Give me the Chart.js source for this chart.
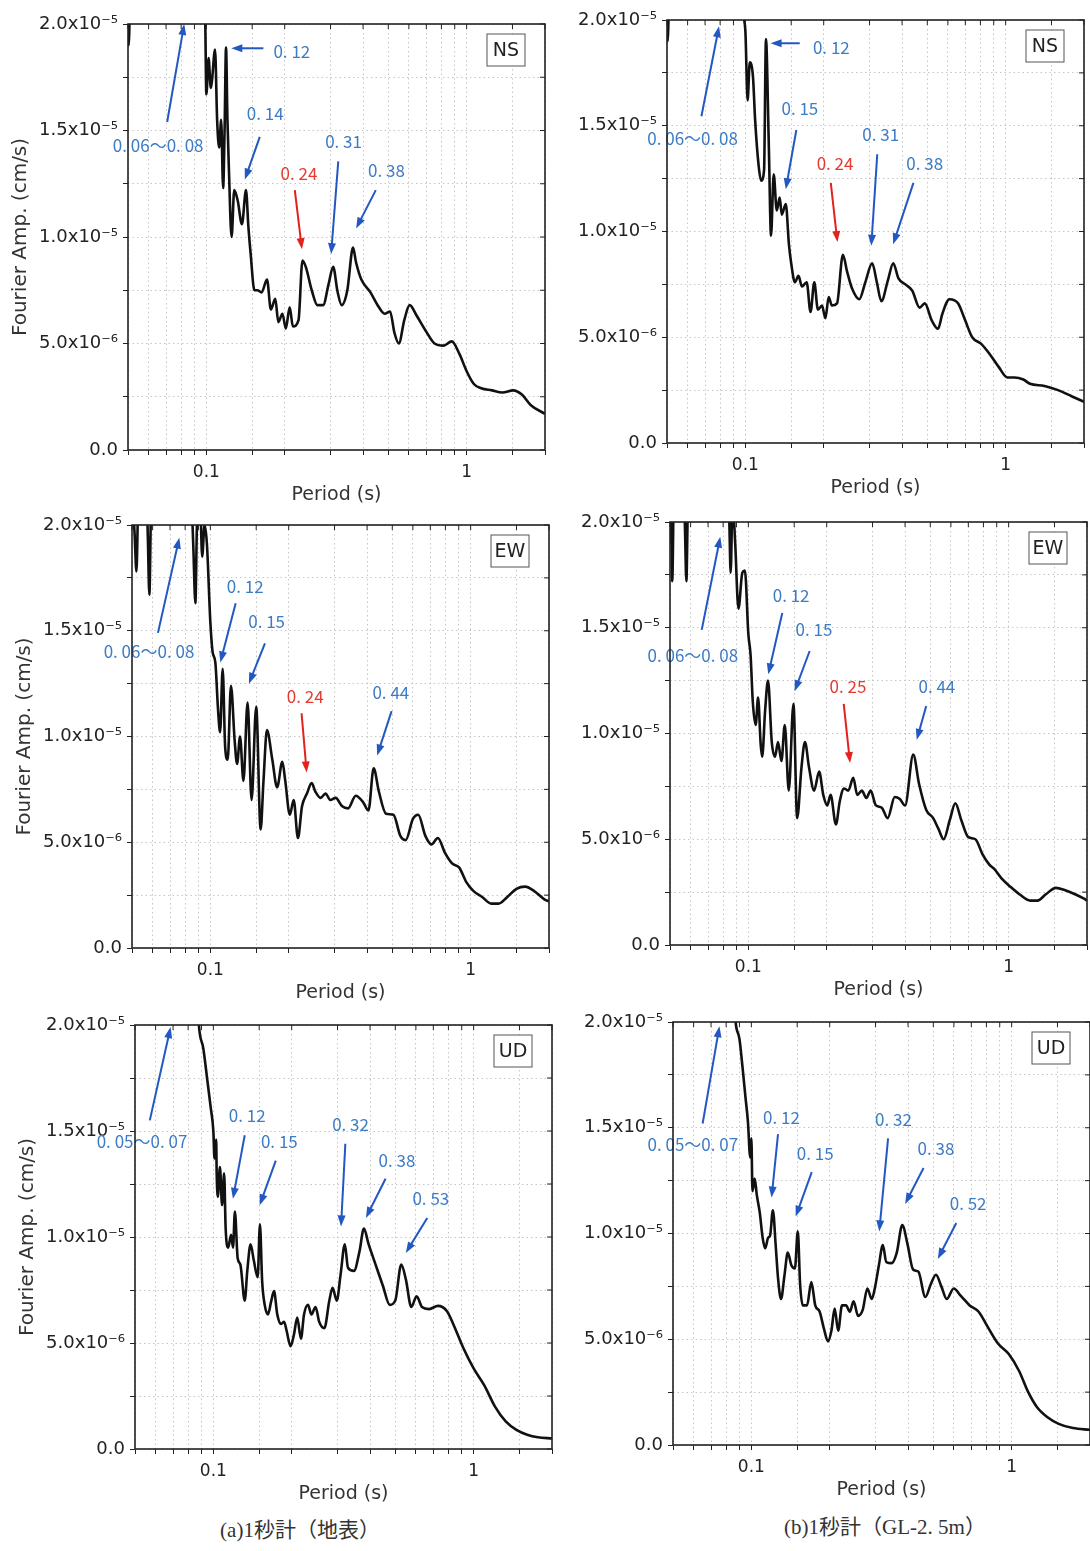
<!DOCTYPE html>
<html>
<head>
<meta charset="utf-8">
<script src="https://cdn.jsdelivr.net/npm/chart.js@4.4.1/dist/chart.umd.min.js"></script>
<style>
  body { margin: 0; background: #fff; width: 1090px; height: 1551px; position: relative; overflow: hidden; }
  canvas { position: absolute; }
  .cap { position: absolute; transform: translateX(-50%); white-space: nowrap;
         font-family: "Liberation Serif", "Noto Sans CJK JP", serif; font-size: 21px; color: #333; line-height: 24px; }
</style>
</head>
<body>
<canvas id="aNS"></canvas>
<canvas id="bNS"></canvas>
<canvas id="aEW"></canvas>
<canvas id="bEW"></canvas>
<canvas id="aUD"></canvas>
<canvas id="bUD"></canvas>
<div class="cap" style="left:300px; top:1518px;">(a)1秒計（地表）</div>
<div class="cap" style="left:885px; top:1515px;">(b)1秒計（GL-2. 5m）</div>

<script>
// Fourier amplitude spectra, amplitude in units of 1e-6 cm/s, period in s

// (a) surface, NS
const periodA_NS = [0.05, 0.0503, 0.0512, 0.06, 0.07, 0.08, 0.09, 0.097, 0.099, 0.1, 0.102, 0.104, 0.105, 0.108, 0.110, 0.112, 0.114, 0.116, 0.1175, 0.119, 0.1205, 0.122, 0.125, 0.128, 0.132, 0.137, 0.142, 0.145, 0.148, 0.153, 0.157, 0.163, 0.171, 0.177, 0.184, 0.189, 0.196, 0.202, 0.209, 0.215, 0.226, 0.234, 0.241, 0.254, 0.267, 0.281, 0.295, 0.307, 0.319, 0.331, 0.348, 0.366, 0.376, 0.394, 0.427, 0.455, 0.484, 0.508, 0.528, 0.549, 0.576, 0.604, 0.643, 0.696, 0.753, 0.815, 0.877, 0.939, 1.0, 1.066, 1.137, 1.25, 1.372, 1.51, 1.63, 1.765, 2.0];
const ampA_NS = [21, 19.0, 22.5, 27, 29, 30, 28, 23, 20.2, 16.7, 18.4, 17.0, 17.3, 18.8, 15.5, 14.2, 15.5, 12.3, 15.0, 18.9, 15.5, 13.3, 10.0, 12.2, 11.7, 10.6, 12.2, 10.5, 9.2, 7.5, 7.5, 7.4, 8.0, 6.6, 7.1, 6.0, 6.4, 5.7, 6.7, 5.8, 6.1, 8.9, 8.6, 7.5, 6.8, 6.8, 7.8, 8.6, 7.45, 6.8, 7.5, 9.5, 8.8, 8.0, 7.4, 6.8, 6.4, 6.5, 5.5, 5.0, 6.1, 6.8, 6.3, 5.6, 5.0, 4.9, 5.1, 4.5, 3.7, 3.1, 2.9, 2.8, 2.7, 2.8, 2.6, 2.1, 1.7];

// (b) GL-2.5m, NS
const periodB_NS = [0.05, 0.0503, 0.0512, 0.06, 0.07, 0.08, 0.09, 0.097, 0.1, 0.102, 0.104, 0.107, 0.109, 0.1125, 0.115, 0.118, 0.120, 0.123, 0.1255, 0.1285, 0.132, 0.1355, 0.138, 0.143, 0.147, 0.150, 0.155, 0.160, 0.165, 0.172, 0.178, 0.184, 0.190, 0.197, 0.203, 0.209, 0.215, 0.225, 0.237, 0.246, 0.257, 0.274, 0.289, 0.307, 0.32, 0.333, 0.353, 0.370, 0.387, 0.412, 0.438, 0.467, 0.489, 0.520, 0.550, 0.571, 0.608, 0.657, 0.699, 0.744, 0.804, 0.869, 0.94, 1.016, 1.081, 1.17, 1.24, 1.41, 1.59, 1.80, 2.0];
const ampB_NS = [21, 19.0, 22.5, 27, 28, 29, 27, 20.5, 19.5, 16.2, 18.0, 17.3, 15.3, 13.1, 12.4, 12.9, 19.1, 14.2, 9.8, 12.7, 11.0, 11.6, 10.8, 11.3, 9.4, 8.5, 7.6, 7.9, 7.4, 7.6, 6.2, 7.6, 6.3, 6.5, 5.9, 6.9, 6.5, 6.6, 8.9, 8.1, 7.3, 6.8, 7.6, 8.5, 7.6, 6.7, 7.7, 8.5, 7.8, 7.5, 7.2, 6.4, 6.6, 5.8, 5.4, 6.1, 6.8, 6.6, 5.8, 5.0, 4.7, 4.2, 3.6, 3.1, 3.1, 3.0, 2.8, 2.7, 2.5, 2.2, 1.95];

// (a) surface, EW
const periodA_EW = [0.05, 0.0512, 0.052, 0.0528, 0.056, 0.0575, 0.0583, 0.0592, 0.065, 0.075, 0.083, 0.086, 0.0876, 0.0888, 0.091, 0.093, 0.095, 0.097, 0.1, 0.102, 0.1045, 0.107, 0.109, 0.1115, 0.114, 0.1166, 0.120, 0.124, 0.1267, 0.130, 0.134, 0.139, 0.144, 0.150, 0.156, 0.160, 0.165, 0.173, 0.1805, 0.189, 0.194, 0.202, 0.209, 0.217, 0.225, 0.235, 0.245, 0.253, 0.265, 0.277, 0.289, 0.303, 0.321, 0.338, 0.362, 0.386, 0.405, 0.424, 0.444, 0.473, 0.505, 0.537, 0.563, 0.600, 0.629, 0.670, 0.707, 0.748, 0.797, 0.849, 0.904, 0.964, 1.024, 1.11, 1.2, 1.28, 1.38, 1.50, 1.62, 1.75, 1.92, 2.0];
const ampA_EW = [22, 19.5, 17.8, 21, 24, 19.5, 16.7, 21, 26, 27, 24, 19, 16.3, 20, 22, 18.5, 20, 19.1, 15.4, 14.0, 13.5, 11.3, 10.2, 13.2, 9.5, 8.9, 12.4, 9.8, 8.7, 10.0, 7.9, 11.6, 7.0, 11.4, 5.6, 7.9, 10.3, 8.9, 7.6, 8.8, 7.9, 6.3, 7.0, 5.2, 6.7, 7.3, 7.8, 7.4, 7.1, 7.3, 7.0, 7.1, 6.7, 6.6, 7.2, 6.9, 6.5, 8.5, 7.4, 6.35, 6.3, 5.3, 5.1, 6.1, 6.3, 5.3, 4.9, 5.2, 4.5, 4.0, 3.8, 3.1, 2.7, 2.4, 2.1, 2.1, 2.4, 2.8, 2.9, 2.7, 2.3, 2.2];

// (b) GL-2.5m, EW
const periodB_EW = [0.05, 0.0505, 0.051, 0.0518, 0.055, 0.057, 0.0578, 0.0586, 0.065, 0.075, 0.082, 0.0845, 0.0855, 0.087, 0.089, 0.0916, 0.0948, 0.097, 0.1, 0.102, 0.104, 0.1067, 0.109, 0.1115, 0.113, 0.116, 0.119, 0.123, 0.1266, 0.130, 0.134, 0.138, 0.143, 0.149, 0.154, 0.160, 0.165, 0.171, 0.179, 0.187, 0.194, 0.201, 0.207, 0.217, 0.2245, 0.233, 0.242, 0.253, 0.262, 0.273, 0.284, 0.295, 0.309, 0.325, 0.343, 0.365, 0.382, 0.400, 0.430, 0.453, 0.482, 0.513, 0.537, 0.563, 0.594, 0.624, 0.658, 0.700, 0.745, 0.793, 0.843, 0.88, 0.939, 1.016, 1.10, 1.21, 1.29, 1.39, 1.52, 1.64, 1.80, 1.94, 2.0];
const ampB_EW = [19, 21, 17.2, 22, 24, 20, 17.2, 21, 26, 27, 24, 20, 17.6, 21, 19, 15.9, 17.6, 17.7, 14.7, 13.7, 11.5, 10.4, 11.7, 9.5, 8.9, 11.1, 12.5, 9.6, 8.9, 9.6, 8.7, 10.4, 7.3, 11.4, 6.0, 8.4, 9.6, 8.4, 7.3, 8.2, 7.1, 6.6, 7.1, 5.7, 6.8, 7.4, 7.3, 7.9, 7.1, 7.3, 6.95, 7.3, 6.6, 6.5, 6.0, 7.0, 6.9, 6.6, 9.0, 7.6, 6.4, 6.0, 5.5, 5.0, 5.9, 6.7, 5.9, 5.1, 5.0, 4.3, 3.8, 3.6, 3.15, 2.75, 2.4, 2.1, 2.1, 2.4, 2.7, 2.6, 2.4, 2.2, 2.1];

// (a) surface, UD
const periodA_UD = [0.05, 0.07, 0.085, 0.088, 0.0915, 0.0948, 0.0977, 0.1, 0.101, 0.1025, 0.103, 0.104, 0.106, 0.108, 0.11, 0.1115, 0.114, 0.117, 0.119, 0.121, 0.124, 0.127, 0.132, 0.135, 0.139, 0.143, 0.148, 0.151, 0.154, 0.1575, 0.162, 0.167, 0.171, 0.176, 0.182, 0.187, 0.191, 0.198, 0.204, 0.210, 0.217, 0.223, 0.231, 0.238, 0.247, 0.255, 0.267, 0.279, 0.287, 0.298, 0.308, 0.320, 0.329, 0.347, 0.364, 0.379, 0.394, 0.420, 0.448, 0.476, 0.5, 0.527, 0.549, 0.576, 0.604, 0.633, 0.674, 0.729, 0.79, 0.841, 0.91, 1.0, 1.099, 1.208, 1.328, 1.46, 1.606, 1.765, 2.0];
const ampA_UD = [26, 30, 24, 20, 18.9, 17.4, 16.1, 15.0, 13.7, 14.6, 13.0, 11.9, 13.3, 11.5, 13.0, 10.4, 9.5, 10.1, 9.5, 11.2, 9.0, 8.7, 7.0, 8.4, 9.65, 8.9, 8.1, 10.6, 7.9, 6.8, 6.35, 7.0, 7.45, 6.35, 5.9, 6.0, 5.6, 4.85, 5.4, 6.2, 5.2, 6.35, 6.8, 6.35, 6.7, 6.0, 5.7, 7.0, 7.6, 7.0, 8.2, 9.65, 8.55, 8.4, 9.3, 10.4, 9.7, 8.7, 7.7, 6.8, 7.0, 8.7, 8.0, 6.7, 7.2, 6.7, 6.6, 6.75, 6.5, 5.8, 4.8, 3.8, 3.0, 2.0, 1.3, 0.9, 0.67, 0.55, 0.5];

// (b) GL-2.5m, UD
const periodB_UD = [0.05, 0.07, 0.083, 0.087, 0.090, 0.0926, 0.095, 0.097, 0.099, 0.1, 0.101, 0.103, 0.105, 0.1077, 0.1105, 0.113, 0.116, 0.118, 0.121, 0.124, 0.1266, 0.130, 0.134, 0.138, 0.1425, 0.147, 0.1508, 0.154, 0.1577, 0.1636, 0.170, 0.176, 0.183, 0.190, 0.197, 0.203, 0.209, 0.2155, 0.223, 0.231, 0.239, 0.247, 0.257, 0.268, 0.279, 0.29, 0.298, 0.309, 0.32, 0.330, 0.346, 0.362, 0.380, 0.398, 0.418, 0.438, 0.466, 0.489, 0.512, 0.537, 0.563, 0.599, 0.638, 0.690, 0.747, 0.808, 0.886, 0.975, 1.068, 1.158, 1.25, 1.378, 1.516, 1.72, 2.0];
const ampB_UD = [26, 30, 24, 20, 19.2, 17.8, 16.4, 15.3, 13.6, 14.5, 12.0, 12.6, 11.8, 11.0, 9.8, 9.3, 9.8, 9.9, 11.1, 9.45, 7.9, 6.9, 8.0, 9.1, 8.5, 8.35, 10.1, 7.55, 6.6, 6.6, 7.7, 6.6, 6.3, 5.5, 4.9, 5.4, 6.45, 5.4, 6.6, 6.6, 6.3, 6.8, 6.1, 6.4, 7.4, 6.9, 7.4, 8.5, 9.45, 8.65, 8.6, 9.1, 10.4, 9.5, 8.3, 8.2, 7.0, 7.6, 8.05, 7.5, 6.9, 7.4, 7.05, 6.6, 6.3, 5.6, 4.8, 4.3, 3.5, 2.5, 1.8, 1.3, 1.0, 0.8, 0.72];

// axis ticks
const xLabelTicks = [0.1, 1];
const yLabelTicks = [0, 5, 10, 15, 20];
const yTickText = ['0.0', '5.0x10⁻⁶', '1.0x10⁻⁵', '1.5x10⁻⁵', '2.0x10⁻⁵'];

// peak annotations: text, colour, label position and arrow (period, amplitude)
const notesA_NS = [
  { t: '0. 06～0. 08', c: 'b', at: [0.0653, 14.3], from: [0.0707, 15.4], to: [0.0822, 20.0] },
  { t: '0. 12', c: 'b', at: [0.213, 18.7], from: [0.1656, 18.86], to: [0.1247, 18.86] },
  { t: '0. 14', c: 'b', at: [0.1683, 15.8], from: [0.1604, 14.7], to: [0.1406, 12.7] },
  { t: '0. 24', c: 'r', at: [0.227, 13.0], from: [0.2187, 12.2], to: [0.2329, 9.43] },
  { t: '0. 31', c: 'b', at: [0.3366, 14.5], from: [0.3212, 13.55], to: [0.3016, 9.2] },
  { t: '0. 38', c: 'b', at: [0.4917, 13.1], from: [0.4477, 12.2], to: [0.3761, 10.4] }
];
const notesB_NS = [
  { t: '0. 06～0. 08', c: 'b', at: [0.0627, 14.4], from: [0.0678, 15.45], to: [0.0792, 19.7] },
  { t: '0. 12', c: 'b', at: [0.214, 18.7], from: [0.1618, 18.9], to: [0.125, 18.9] },
  { t: '0. 15', c: 'b', at: [0.162, 15.8], from: [0.157, 14.8], to: [0.143, 12.0] },
  { t: '0. 24', c: 'r', at: [0.2211, 13.2], from: [0.2129, 12.3], to: [0.2258, 9.5] },
  { t: '0. 31', c: 'b', at: [0.331, 14.6], from: [0.3212, 13.65], to: [0.3047, 9.33] },
  { t: '0. 38', c: 'b', at: [0.4888, 13.2], from: [0.4423, 12.3], to: [0.3697, 9.4] }
];
const notesA_EW = [
  { t: '0. 06～0. 08', c: 'b', at: [0.0581, 14.0], from: [0.0629, 14.9], to: [0.076, 19.4] },
  { t: '0. 12', c: 'b', at: [0.1362, 17.1], from: [0.1251, 16.3], to: [0.1092, 13.5] },
  { t: '0. 15', c: 'b', at: [0.1645, 15.45], from: [0.1621, 14.4], to: [0.1406, 12.5] },
  { t: '0. 24', c: 'r', at: [0.2313, 11.9], from: [0.2241, 11.1], to: [0.2344, 8.3] },
  { t: '0. 44', c: 'b', at: [0.4937, 12.1], from: [0.4969, 11.2], to: [0.4373, 9.1] }
];
const notesB_EW = [
  { t: '0. 06～0. 08', c: 'b', at: [0.0612, 13.7], from: [0.0662, 14.9], to: [0.078, 19.3] },
  { t: '0. 12', c: 'b', at: [0.146, 16.5], from: [0.135, 15.7], to: [0.1193, 12.8] },
  { t: '0. 15', c: 'b', at: [0.1787, 14.9], from: [0.172, 13.9], to: [0.1506, 12.0] },
  { t: '0. 25', c: 'r', at: [0.2415, 12.2], from: [0.2325, 11.4], to: [0.2459, 8.6] },
  { t: '0. 44', c: 'b', at: [0.53, 12.2], from: [0.4823, 11.3], to: [0.4434, 9.7] }
];
const notesA_UD = [
  { t: '0. 05～0. 07', c: 'b', at: [0.0532, 14.5], from: [0.057, 15.5], to: [0.0685, 19.9] },
  { t: '0. 12', c: 'b', at: [0.1349, 15.75], from: [0.132, 14.8], to: [0.1189, 11.8] },
  { t: '0. 15', c: 'b', at: [0.1793, 14.5], from: [0.1737, 13.6], to: [0.1507, 11.5] },
  { t: '0. 32', c: 'b', at: [0.3366, 15.3], from: [0.3214, 14.4], to: [0.3094, 10.5] },
  { t: '0. 38', c: 'b', at: [0.5076, 13.6], from: [0.4587, 12.75], to: [0.3856, 10.9] },
  { t: '0. 53', c: 'b', at: [0.6847, 11.8], from: [0.6633, 10.9], to: [0.5488, 9.25] }
];
const notesB_UD = [
  { t: '0. 05～0. 07', c: 'b', at: [0.0596, 14.2], from: [0.065, 15.2], to: [0.0754, 19.8] },
  { t: '0. 12', c: 'b', at: [0.1306, 15.5], from: [0.1266, 14.7], to: [0.1196, 11.7] },
  { t: '0. 15', c: 'b', at: [0.176, 13.8], from: [0.1706, 12.9], to: [0.148, 10.8] },
  { t: '0. 32', c: 'b', at: [0.3515, 15.4], from: [0.3352, 14.5], to: [0.31, 10.1] },
  { t: '0. 38', c: 'b', at: [0.5121, 14.0], from: [0.4588, 13.1], to: [0.3897, 11.4] },
  { t: '0. 52', c: 'b', at: [0.6805, 11.4], from: [0.6128, 10.5], to: [0.5204, 8.8] }
];

// plot-area placement of each panel on the page (left, right, top, bottom)
const panels = [
  { id: 'aNS', comp: 'NS', x: periodA_NS, y: ampA_NS, notes: notesA_NS, box: [128, 546, 24, 450], yTitle: true },
  { id: 'bNS', comp: 'NS', x: periodB_NS, y: ampB_NS, notes: notesB_NS, box: [667, 1085, 20, 443], yTitle: false },
  { id: 'aEW', comp: 'EW', x: periodA_EW, y: ampA_EW, notes: notesA_EW, box: [132, 550, 525, 948], yTitle: true },
  { id: 'bEW', comp: 'EW', x: periodB_EW, y: ampB_EW, notes: notesB_EW, box: [670, 1088, 522, 945], yTitle: false },
  { id: 'aUD', comp: 'UD', x: periodA_UD, y: ampA_UD, notes: notesA_UD, box: [135, 553, 1025, 1449], yTitle: true },
  { id: 'bUD', comp: 'UD', x: periodB_UD, y: ampB_UD, notes: notesB_UD, box: [673, 1091, 1022, 1445], yTitle: false }
];

const PAD_L = 125, PAD_R = 6, PAD_T = 16, PAD_B = 60;
const BLUE_TEXT = '#3d7cc6', BLUE_ARROW = '#2358c2';
const RED_TEXT = '#e63a30', RED_ARROW = '#e1221d';
const NOTE_FONT = '17px "Noto Sans CJK JP", "DejaVu Sans Condensed", sans-serif';

Chart.defaults.font.family = '"DejaVu Sans", "Liberation Sans", sans-serif';
Chart.defaults.color = '#222';

function drawArrow(ctx, x1, y1, x2, y2, color) {
  const ang = Math.atan2(y2 - y1, x2 - x1);
  const hl = 11, hw = 4;
  const c = Math.cos(ang), s = Math.sin(ang);
  ctx.strokeStyle = color;
  ctx.fillStyle = color;
  ctx.lineWidth = 2;
  ctx.beginPath();
  ctx.moveTo(x1, y1);
  ctx.lineTo(x2 - hl * 0.8 * c, y2 - hl * 0.8 * s);
  ctx.stroke();
  ctx.beginPath();
  ctx.moveTo(x2, y2);
  ctx.lineTo(x2 - hl * c + hw * s, y2 - hl * s - hw * c);
  ctx.lineTo(x2 - hl * c - hw * s, y2 - hl * s + hw * c);
  ctx.closePath();
  ctx.fill();
}

// peak labels with arrows
const notesPlugin = {
  id: 'notes',
  afterDatasetsDraw(chart, args, opts) {
    const ctx = chart.ctx, xs = chart.scales.x, ys = chart.scales.y;
    const px = p => xs.getPixelForValue(p[0]);
    const py = p => ys.getPixelForValue(p[1]);
    ctx.save();
    opts.list.forEach(n => {
      const red = n.c === 'r';
      drawArrow(ctx, px(n.from), py(n.from), px(n.to), py(n.to), red ? RED_ARROW : BLUE_ARROW);
      ctx.font = NOTE_FONT;
      ctx.fillStyle = red ? RED_TEXT : BLUE_TEXT;
      ctx.textAlign = 'center';
      ctx.textBaseline = 'middle';
      ctx.fillText(n.t, px(n.at), py(n.at));
    });
    ctx.restore();
  }
};

// plot frame, inward ticks on top/right, component label box
const framePlugin = {
  id: 'frame',
  afterDraw(chart, args, opts) {
    const ctx = chart.ctx, a = chart.chartArea;
    ctx.save();
    ctx.strokeStyle = '#222';
    ctx.lineWidth = 1;
    chart.scales.x.ticks.forEach(t => {
      const x = chart.scales.x.getPixelForValue(t.value);
      ctx.beginPath(); ctx.moveTo(x, a.top); ctx.lineTo(x, a.top + 5); ctx.stroke();
    });
    chart.scales.y.ticks.forEach(t => {
      const y = chart.scales.y.getPixelForValue(t.value);
      ctx.beginPath(); ctx.moveTo(a.right, y); ctx.lineTo(a.right - 5, y); ctx.stroke();
    });
    ctx.lineWidth = 1.6;
    ctx.strokeRect(a.left, a.top, a.right - a.left, a.bottom - a.top);

    const bw = 38, bh = 32, bx = a.right - 20 - bw, by = a.top + 10;
    ctx.fillStyle = '#fff';
    ctx.fillRect(bx, by, bw, bh);
    ctx.lineWidth = 1;
    ctx.strokeStyle = '#555';
    ctx.strokeRect(bx, by, bw, bh);
    ctx.fillStyle = '#222';
    ctx.font = '19px "DejaVu Sans", sans-serif';
    ctx.textAlign = 'center';
    ctx.textBaseline = 'middle';
    ctx.fillText(opts.comp, bx + bw / 2, by + bh / 2 + 1);
    ctx.restore();
  }
};

panels.forEach(p => {
  const [L, R, T, B] = p.box;
  const cv = document.getElementById(p.id);
  cv.width = (R - L) + PAD_L + PAD_R;
  cv.height = (B - T) + PAD_T + PAD_B;
  cv.style.left = (L - PAD_L) + 'px';
  cv.style.top = (T - PAD_T) + 'px';

  new Chart(cv, {
    type: 'line',
    data: {
      datasets: [{
        data: p.x.map((v, i) => ({ x: v, y: p.y[i] })),
        borderColor: '#111',
        borderWidth: 2.6,
        pointRadius: 0,
        fill: false,
        cubicInterpolationMode: 'monotone'
      }]
    },
    options: {
      responsive: false,
      animation: false,
      events: [],
      layout: { padding: { top: PAD_T, right: PAD_R, left: 0, bottom: 0 } },
      plugins: {
        legend: { display: false },
        tooltip: { enabled: false },
        notes: { list: p.notes },
        frame: { comp: p.comp }
      },
      scales: {
        x: {
          type: 'logarithmic',
          min: 0.05,
          max: 2,
          afterFit(s) { s.height = PAD_B; },
          grid: { color: '#c6c6c6', lineWidth: 1, tickLength: 5, tickColor: '#222' },
          border: { display: false, dash: [1.5, 3] },
          ticks: {
            autoSkip: false,
            maxRotation: 0,
            padding: 7,
            color: '#222',
            font: { size: 17 },
            callback(v) {
              const hit = xLabelTicks.find(t => Math.abs(t - v) < 1e-9);
              return hit !== undefined ? String(hit) : '';
            }
          },
          title: { display: true, text: 'Period (s)', color: '#333', font: { size: 19 }, padding: { top: 0, bottom: 4 } }
        },
        y: {
          min: 0,
          max: 20,
          afterFit(s) { s.width = PAD_L; },
          grid: { color: '#c6c6c6', lineWidth: 1, tickLength: 5, tickColor: '#222' },
          border: { display: false, dash: [1.5, 3] },
          ticks: {
            stepSize: 2.5,
            padding: 5,
            color: '#222',
            font: { size: 18 },
            callback(v) {
              const i = yLabelTicks.indexOf(v);
              return i >= 0 ? yTickText[i] : '';
            }
          },
          title: { display: p.yTitle, text: 'Fourier Amp. (cm/s)', color: '#333', font: { size: 20 }, padding: { top: 6, bottom: 0 } }
        }
      }
    },
    plugins: [notesPlugin, framePlugin]
  });
});
</script>
</body>
</html>
